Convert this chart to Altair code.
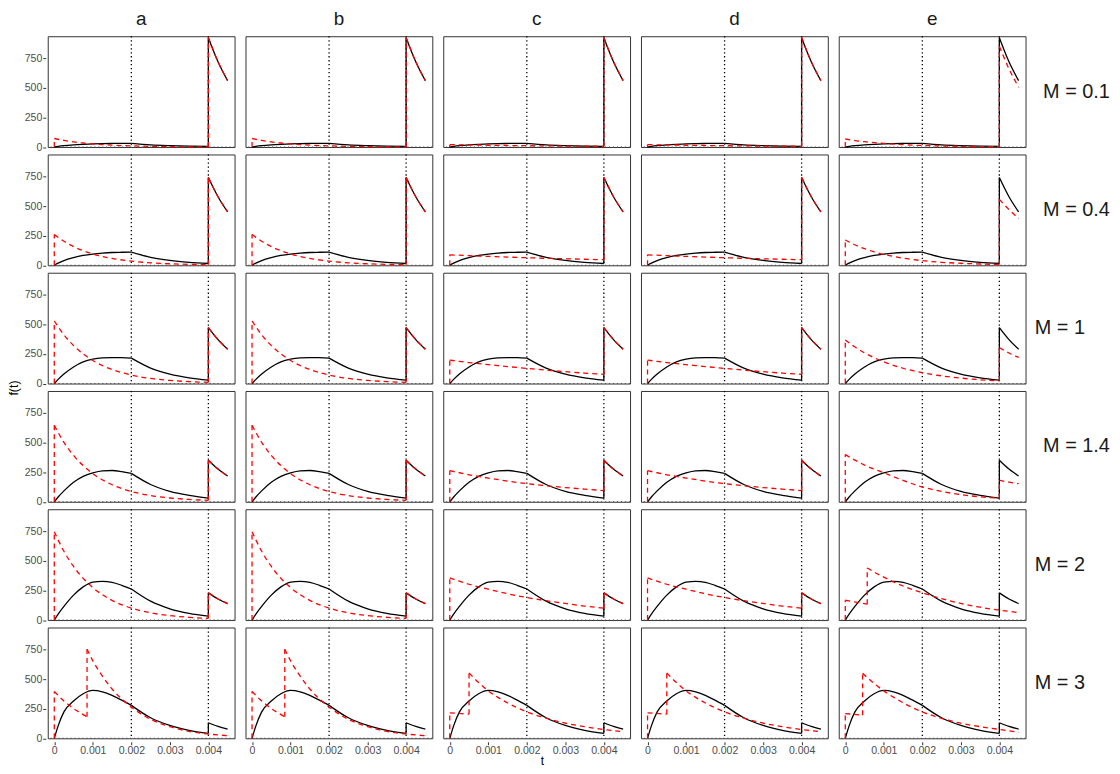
import altair as alt
import pandas as pd

M_LABELS = ["M = 0.1", "M = 0.4", "M = 1", "M = 1.4", "M = 2", "M = 3"]
COLS = ["a", "b", "c", "d", "e"]
VLINES = [0.002, 0.004]
X_TICKS = [0, 0.001, 0.002, 0.003, 0.004]
Y_TICKS = [0, 250, 500, 750]

# ---- solid black curve (same in every column of a row) ----
T_BLACK = [0, 0.0001, 0.00025, 0.0005, 0.00075, 0.001, 0.00125, 0.0015, 0.00175, 0.002,
           0.0025, 0.003, 0.0035, 0.004, 0.004, 0.00425, 0.0045]
BLACK_M01 = [0, 5, 11, 18, 23, 27, 29, 30, 31, 31, 19, 12, 7, 5, 923, 720, 560]
BLACK_M04 = [0, 18, 40, 65, 83, 95, 103, 108, 110, 111, 67, 41, 25, 15, 740, 578, 450]
BLACK_M1 = [0, 35, 80, 140, 182, 205, 216, 219, 218, 214, 130, 79, 48, 29, 472, 371, 290]
BLACK_M14 = [0, 40, 92, 165, 215, 244, 261, 264, 255, 240, 146, 88, 54, 31, 351, 276, 217]
BLACK_M2 = [0, 50, 115, 210, 280, 320, 326, 318, 293, 262, 159, 95, 56, 33, 229, 178, 139]
BLACK_M3 = [0, 105, 223, 315, 376, 404, 392, 362, 322, 278, 173, 108, 67, 42, 131, 101, 78]
BLACK_KINKS = [0.002]

# ---- red dashed curves ----
T_RED = [0, 0, 0.00025, 0.0005, 0.00075, 0.001, 0.0015, 0.002, 0.0025, 0.003, 0.0035,
         0.004, 0.004, 0.00425, 0.0045]

# columns a and b
RED_A_M01 = [0, 72, 56, 43, 34, 26, 16, 10, 6, 4, 2, 1, 923, 720, 560]
RED_A_M04 = [0, 260, 203, 158, 123, 96, 58, 35, 21, 13, 8, 5, 740, 578, 450]
RED_A_M1 = [0, 528, 411, 320, 250, 194, 118, 72, 43, 26, 16, 10, 472, 371, 290]
RED_A_M14 = [0, 645, 502, 391, 305, 237, 144, 87, 53, 32, 20, 12, 351, 276, 217]
RED_A_M2 = [0, 745, 580, 452, 352, 274, 166, 101, 61, 37, 23, 14, 229, 178, 139]
T_RED_A_M3 = [0, 0, 0.00025, 0.0005, 0.00075, 0.00085, 0.00085, 0.001, 0.00125, 0.0015,
              0.00175, 0.002, 0.0025, 0.003, 0.0035, 0.004, 0.0045]
RED_A_M3 = [0, 395, 315, 251, 200, 182, 752, 654, 524, 416, 332, 264, 160, 98, 58, 36, 22]

# columns c and d
RED_C_M01 = [0, 20, 19, 18, 17, 15, 13, 11, 10, 8, 7, 6, 923, 720, 560]
RED_C_M04 = [0, 88, 85, 81, 78, 75, 69, 64, 59, 55, 51, 47, 740, 578, 450]
RED_C_M1 = [0, 198, 187, 177, 168, 160, 143, 128, 113, 100, 88, 78, 472, 371, 290]
RED_C_M14 = [0, 262, 245, 228, 214, 200, 175, 153, 135, 120, 107, 95, 351, 276, 217]
RED_C_M2 = [0, 355, 328, 302, 280, 260, 222, 190, 163, 140, 118, 100, 229, 178, 139]
T_RED_C_M3 = [0, 0, 0.0005, 0.0005, 0.00075, 0.001, 0.00125, 0.0015, 0.00175, 0.002,
              0.0025, 0.003, 0.0035, 0.004, 0.0045]
RED_C_M3 = [0, 215, 203, 551, 470, 400, 345, 298, 258, 223, 170, 128, 98, 74, 55]

# column e
RED_E_M01 = [0, 68, 55, 45, 37, 30, 20, 13, 9, 6, 4, 3, 850, 660, 505]
RED_E_M04 = [0, 214, 173, 140, 114, 92, 60, 39, 25, 17, 11, 7, 556, 470, 395]
RED_E_M1 = [0, 367, 308, 259, 218, 183, 129, 92, 65, 46, 32, 23, 303, 258, 220]
RED_E_M14 = [0, 398, 352, 310, 276, 245, 180, 125, 88, 60, 42, 30, 181, 166, 153]
T_RED_E_M2 = [0, 0, 0.00057, 0.00057, 0.00075, 0.001, 0.00125, 0.0015, 0.00175, 0.002,
              0.0025, 0.003, 0.0035, 0.004, 0.0045]
RED_E_M2 = [0, 167, 134, 440, 405, 362, 322, 287, 256, 231, 180, 140, 108, 84, 63]
T_RED_E_M3 = [0, 0, 0.00045, 0.00045, 0.00075, 0.001, 0.00125, 0.0015, 0.00175, 0.002,
              0.0025, 0.003, 0.0035, 0.004, 0.0045]
RED_E_M3 = [0, 209, 195, 549, 462, 400, 347, 300, 258, 223, 168, 127, 98, 75, 50]

BLACK = [BLACK_M01, BLACK_M04, BLACK_M1, BLACK_M14, BLACK_M2, BLACK_M3]
RED_A = [(T_RED, RED_A_M01), (T_RED, RED_A_M04), (T_RED, RED_A_M1),
         (T_RED, RED_A_M14), (T_RED, RED_A_M2), (T_RED_A_M3, RED_A_M3)]
RED_C = [(T_RED, RED_C_M01), (T_RED, RED_C_M04), (T_RED, RED_C_M1),
         (T_RED, RED_C_M14), (T_RED, RED_C_M2), (T_RED_C_M3, RED_C_M3)]
RED_E = [(T_RED, RED_E_M01), (T_RED, RED_E_M04), (T_RED, RED_E_M1),
         (T_RED, RED_E_M14), (T_RED_E_M2, RED_E_M2), (T_RED_E_M3, RED_E_M3)]
RED_BY_COL = {"a": RED_A, "b": RED_A, "c": RED_C, "d": RED_C, "e": RED_E}


def split_segments(ts, fs, kinks=()):
    """Split a polyline into smooth pieces at jumps (repeated t) and kinks."""
    segs, cur = [], [(ts[0], fs[0])]
    for i in range(1, len(ts)):
        if ts[i] == ts[i - 1]:
            segs.append(cur)
            segs.append([(ts[i - 1], fs[i - 1]), (ts[i], fs[i])])
            cur = [(ts[i], fs[i])]
        else:
            cur.append((ts[i], fs[i]))
            if ts[i] in kinks:
                segs.append(cur)
                cur = [(ts[i], fs[i])]
    segs.append(cur)
    return [s for s in segs if len(s) > 1]


rows = []
for mi, m in enumerate(M_LABELS):
    for c in COLS:
        for k, seg in enumerate(split_segments(T_BLACK, BLACK[mi], BLACK_KINKS)):
            for i, (t, f) in enumerate(seg):
                rows.append(dict(col=c, M=m, series="black", seg=f"b{k}", t=t, f=f, idx=i))
        tr, fr = RED_BY_COL[c][mi]
        for k, seg in enumerate(split_segments(tr, fr)):
            for i, (t, f) in enumerate(seg):
                rows.append(dict(col=c, M=m, series="red", seg=f"r{k}", t=t, f=f, idx=i))
        for v in VLINES:
            rows.append(dict(col=c, M=m, series="vline", seg="v", t=v, f=0, idx=0))
        rows.append(dict(col=c, M=m, series="hline", seg="h", t=0, f=0, idx=0))
df = pd.DataFrame(rows)

FONT = "Liberation Sans"
NBSP = "\u00a0"
Y_TITLE = NBSP * 18 + "f(t)"   # leading spaces lift the rotated title to the grid centre
# short strip labels get padded so every strip label has the same width (centred look)
ROW_LABEL_EXPR = (f"length(datum.value) < 6 ? '{NBSP}{NBSP}' + datum.value + '{NBSP}' "
                  f": datum.value")

xenc = alt.X("t:Q", scale=alt.Scale(domain=[-0.00017, 0.00468], nice=False, zero=False),
             axis=alt.Axis(values=X_TICKS, title=None,
                           labelExpr="datum.value == 0 ? '0' : format(datum.value, '.3f')"))
yenc = alt.Y("f:Q", scale=alt.Scale(domain=[0, 935], nice=False),
             axis=alt.Axis(values=Y_TICKS, title=None))

base = alt.Chart()
vl = base.transform_filter(alt.datum.series == "vline").mark_rule(
    color="black", strokeWidth=1.3, strokeDash=[1.3, 2.7]).encode(x=xenc)
hl = base.transform_filter(alt.datum.series == "hline").mark_rule(
    color="#555555", strokeWidth=1.1, strokeDash=[1.3, 2.7]).encode(y=yenc)
black = base.transform_filter(alt.datum.series == "black").mark_line(
    color="black", strokeWidth=1.3, interpolate="monotone").encode(
    x=xenc, y=yenc, detail="seg:N", order="idx:Q")
red = base.transform_filter(alt.datum.series == "red").mark_line(
    color="red", strokeWidth=1.3, strokeDash=[5, 4], interpolate="monotone").encode(
    x=xenc, y=yenc, detail="seg:N", order="idx:Q")

layer = alt.layer(vl, hl, black, red, data=df).properties(width=188, height=111.5)

chart = layer.facet(
    row=alt.Row("M:N", sort=M_LABELS,
                header=alt.Header(title=Y_TITLE, titleOrient="left", labelOrient="right",
                                  labelAngle=0, labelAlign="center", labelPadding=-18,
                                  labelExpr=ROW_LABEL_EXPR,
                                  labelFont=FONT, labelFontSize=20, labelColor="#1A1A1A",
                                  titleFont=FONT, titleFontSize=12.5, titleFontWeight="normal",
                                  titleColor="black", titlePadding=-7)),
    column=alt.Column("col:N", sort=COLS,
                      header=alt.Header(title=None, labelOrient="top",
                                        labelFont=FONT, labelFontSize=19, labelColor="#1A1A1A",
                                        labelPadding=5)),
    spacing={"row": 2, "column": 7},
).properties(
    padding={"left": 0, "top": 0, "right": 2, "bottom": 0},
    title=alt.TitleParams("t", orient="bottom", anchor="middle", font=FONT, fontSize=12,
                          fontWeight="normal", color="black", offset=0, dx=-17),
).configure_view(
    stroke="#333333", strokeWidth=1
).configure_axis(
    grid=False, domain=False, labelFont=FONT, labelFontSize=10.6, labelColor="#4D4D4D",
    tickColor="#333333", tickSize=3, labelPadding=1
)

chart.save("out.html", embed_options={"renderer": "svg", "actions": False})
